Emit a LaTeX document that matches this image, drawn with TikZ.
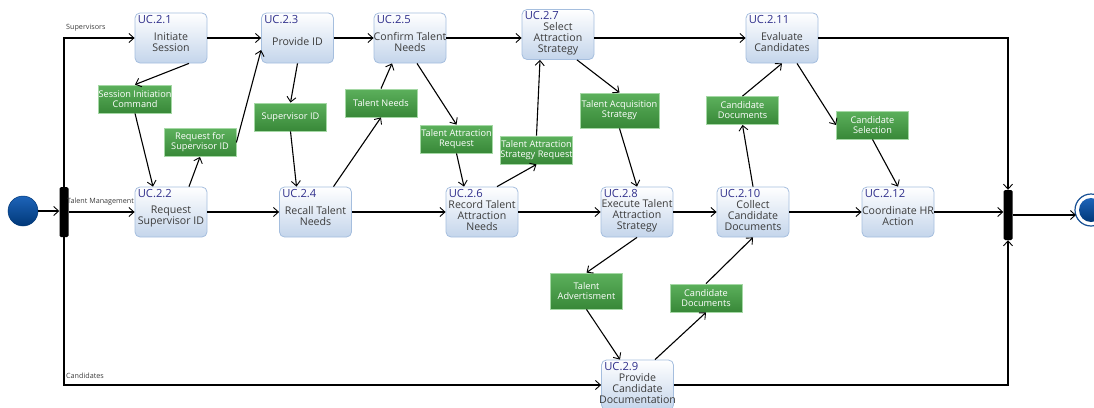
\documentclass[tikz,border=0pt]{standalone}
\usepackage{fontspec}
\setmainfont{Open Sans}
\usetikzlibrary{arrows.meta,positioning}

\definecolor{ucid}{RGB}{48,48,140}
\definecolor{ucbody}{RGB}{60,60,60}
\definecolor{ucborder}{RGB}{165,190,222}
\definecolor{ucfill}{RGB}{196,213,235}
\definecolor{objtop}{RGB}{92,176,92}
\definecolor{objbot}{RGB}{56,136,56}
\definecolor{objborder}{RGB}{165,216,165}
\definecolor{inittop}{RGB}{30,100,185}
\definecolor{initbot}{RGB}{0,56,120}
\definecolor{laneText}{RGB}{60,60,60}

\tikzset{
  uc/.style 2 args={draw=ucborder, line width=0.8pt, rounded corners=5pt,
    top color=white, bottom color=ucfill,
    minimum width=72pt, minimum height=50pt, inner sep=0pt,
    label={[idlabel]north west:#1},
    label={[ucbodytext]center:#2}},
  idlabel/.style={anchor=north west, inner sep=0pt, xshift=3pt, yshift=-2.5pt,
    text=ucid, font=\fontsize{11.2}{12}\selectfont},
  ucbodytext/.style={anchor=center, inner sep=0pt, yshift=-4pt, align=center,
    text=ucbody, font=\fontsize{10.6}{11}\selectfont},
  obj/.style={draw=objborder, line width=0.8pt, top color=objtop, bottom color=objbot,
    minimum width=72pt, minimum height=28pt, inner sep=0pt, align=center,
    text=white, font=\fontsize{9.2}{10}\selectfont},
  bar/.style={fill=black, rounded corners=1.5pt, minimum width=9pt, minimum height=50pt, inner sep=0pt},
  flow/.style={line width=1.1pt, -{Straight Barb[length=5pt,width=9pt,line width=0.9pt]}},
  lane/.style={inner sep=0pt, anchor=west, text=laneText, font=\fontsize{7.2}{8}\selectfont},
}

\begin{document}
\begin{tikzpicture}[x=1pt,y=-1pt]
\useasboundingbox (0,0) rectangle (1094,407);

% start, fork, join and end
\node[circle, minimum size=30pt, inner sep=0pt, top color=inittop, bottom color=initbot, draw=initbot, line width=0.5pt] (init) at (23,211) {};
\node[bar] (fk) at (64,212) {};
\node[bar] (jn) at (1008,215) {};
\node[circle, minimum size=32pt, inner sep=0pt, draw=inittop!80!black, line width=1.2pt, fill=white] (fin) at (1091,210) {};
\node[circle, minimum size=24pt, inner sep=0pt, top color=inittop, bottom color=initbot] (finc) at (fin.center) {};

% activities
\node[uc={UC.2.1}{Initiate\\Session}] (u21) at (171,38) {};
\node[uc={UC.2.2}{Request\\Supervisor ID}] (u22) at (171,212) {};
\node[uc={UC.2.3}{Provide ID}] (u23) at (297.5,38) {};
\node[uc={UC.2.4}{Recall Talent\\Needs}] (u24) at (315.5,212) {};
\node[uc={UC.2.5}{Confirm Talent\\Needs}] (u25) at (410,38) {};
\node[uc={UC.2.6}{Record Talent\\Attraction\\Needs}] (u26) at (482,212) {};
\node[uc={UC.2.7}{Select\\Attraction\\Strategy}] (u27) at (558,34.5) {};
\node[uc={UC.2.8}{Execute Talent\\Attraction\\Strategy}] (u28) at (637,212) {};
\node[uc={UC.2.9}{Provide\\Candidate\\Documentation}] (u29) at (637.5,385) {};
\node[uc={UC.2.10}{Collect\\Candidate\\Documents}] (u210) at (753,212) {};
\node[uc={UC.2.11}{Evaluate\\Candidates}] (u211) at (782,38) {};
\node[uc={UC.2.12}{Coordinate HR\\Action}] (u212) at (898,212) {};

% objects
\node[obj] (sic) at (135,99) {Session Initiation\\Command};
\node[obj] (rfs) at (200,142.5) {Request for\\Supervisor ID};
\node[obj] (sid) at (290.5,117) {Supervisor ID};
\node[obj] (tn) at (381,103) {Talent Needs};
\node[obj] (tar) at (456.5,139) {Talent Attraction\\Request};
\node[obj] (tasr) at (536.5,150) {Talent Attraction\\Strategy Request};
\node[obj, minimum width=79pt, minimum height=35pt] (tas) at (619.5,110.5) {Talent Acquisition\\Strategy};
\node[obj] (cdu) at (742.5,110.5) {Candidate\\Documents};
\node[obj] (cs) at (872.5,125) {Candidate\\Selection};
\node[obj, minimum height=36pt] (tadv) at (586.5,291) {Talent\\Advertisment};
\node[obj] (cdl) at (706,298) {Candidate\\Documents};

% lane captions
\node[lane] (lsup) at (66,28) {Supervisors};
\node[lane] (ltm) at (67,202) {Talent Management};
\node[lane] (lcand) at (66,376) {Candidates};

% control flow
\draw[flow] (init) -- (fk.west |- init);
\draw[flow] (fk.north) |- (u21);
\draw[flow] (fk) -- (u22);
\draw[flow] (fk.south) |- (u29);
\draw[flow] (u21) -- (u23);
\draw[flow] (u23) -- (u25);
\draw[flow] (u25) -- (u25 -| u27.west);
\draw[flow] (u27.east |- u211) -- (u211);
\draw[flow] (u211) -| (jn.north);
\draw[flow] (u22) -- (u24);
\draw[flow] (u24) -- (u26);
\draw[flow] (u26) -- (u28);
\draw[flow] (u28) -- (u210);
\draw[flow] (u210) -- (u212);
\draw[flow] (u212) -- (u212 -| jn.west);
\draw[flow] (u29) -| (jn.south);
\coordinate (finin) at (1076,215);
\draw[flow] (jn.east |- finin) -- (finin);

% object flow
\draw[flow] ([xshift=18pt]u21.south) -- (sic.north);
\draw[flow] (sic.south) -- ([xshift=-18pt]u22.north);
\draw[flow] ([xshift=18pt]u22.north) -- (rfs.south);
\draw[flow] (rfs.east) -- ([yshift=-12pt]u23.west);
\draw[flow] (u23.south) -- (sid.north);
\draw[flow] (sid.south) -- ([xshift=-19pt]u24.north);
\draw[flow] ([xshift=18pt]u24.north) -- (tn.south);
\draw[flow] (tn.north) -- ([xshift=-18pt]u25.south);
\draw[flow] ([xshift=7pt]u25.south) -- (tar.north);
\draw[flow] (tar.south) -- ([xshift=-18pt]u26.north);
\draw[flow] ([xshift=15pt]u26.north) -- (tasr.south);
\draw[flow] (tasr.north) -- ([xshift=-18pt]u27.south);
\draw[flow] ([xshift=19pt]u27.south) -- (tas.north);
\draw[flow] (tas.south) -- (u28.north);
\draw[flow] (u28.south) -- (tadv.north);
\draw[flow] (tadv.south) -- ([xshift=-17.5pt]u29.north);
\draw[flow] ([xshift=17.5pt]u29.north) -- (cdl.south);
\draw[flow] (cdl.north) -- (u210.south);
\draw[flow] (u210.north) -- (cdu.south);
\draw[flow] (cdu.north) -- (u211.south);
\draw[flow] ([xshift=15pt]u211.south) -- (cs.west);
\draw[flow] (cs.south) -- (u212.north);
\end{tikzpicture}
\end{document}
